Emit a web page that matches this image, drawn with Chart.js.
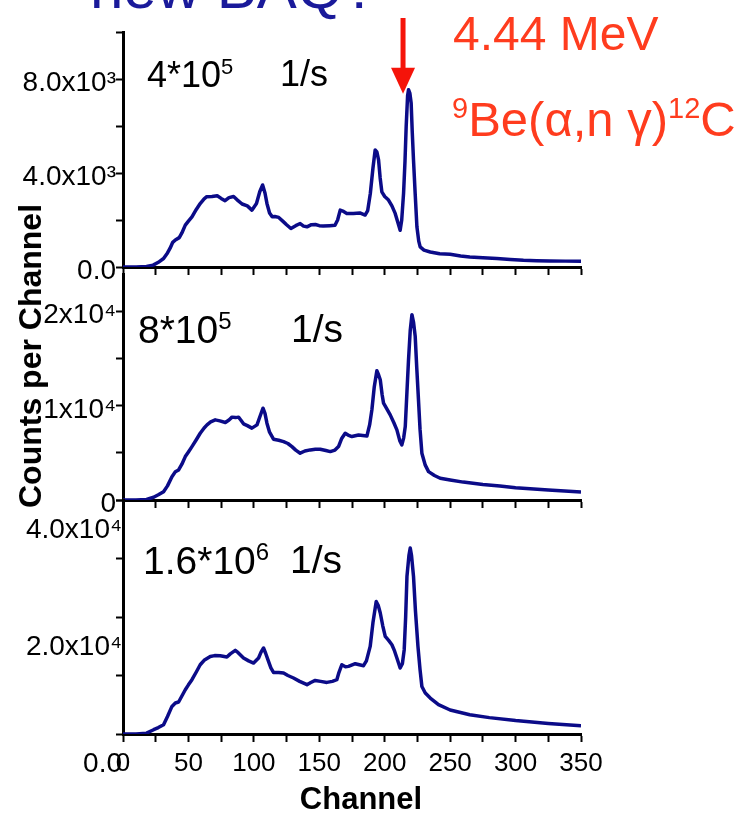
<!DOCTYPE html>
<html>
<head>
<meta charset="utf-8">
<script src="https://cdn.jsdelivr.net/npm/chart.js@4.4.0/dist/chart.umd.min.js"></script>
<style>
  html, body { margin: 0; padding: 0; background: #fff; }
  body { width: 739px; height: 813px; position: relative; overflow: hidden; font-family: "Liberation Sans", Arial, sans-serif; }
  canvas { position: absolute; left: 0; top: 0; }
  .txt { position: absolute; white-space: nowrap; line-height: 1; color: #000; }
  .red { color: #ff3c1e; }
</style>
</head>
<body>
<canvas id="panel1" width="739" height="813"></canvas>
<canvas id="panel2" width="739" height="813"></canvas>
<canvas id="panel3" width="739" height="813"></canvas>

<div class="txt" style="left:90px;top:-42px;font-size:60px;color:#1a1a9a">new BAQ?</div>
<div class="txt red" style="left:453px;top:10px;font-size:48px">4.44 MeV</div>
<div class="txt red" style="left:452px;top:94px;font-size:49px"><span style="font-size:29px;vertical-align:18px">9</span>Be(α,n γ)<span style="font-size:29px;vertical-align:18px">12</span>C</div>

<div class="txt" style="left:147px;top:56px;font-size:36px">4*10<span style="font-size:22px;vertical-align:13px">5</span><span style="position:absolute;left:133px">1/s</span></div>
<div class="txt" style="left:138px;top:309px;font-size:39px">8*10<span style="font-size:24px;vertical-align:14px">5</span><span style="position:absolute;left:153px">1/s</span></div>
<div class="txt" style="left:143px;top:540px;font-size:39px">1.6*10<span style="font-size:24px;vertical-align:14px">6</span><span style="position:absolute;left:147px">1/s</span></div>

<div class="txt" style="left:361px;top:783px;font-size:31px;font-weight:bold;transform:translateX(-50%)">Channel</div>
<div class="txt" style="left:30px;top:356px;font-size:32px;font-weight:bold;transform:translate(-50%,-50%) rotate(-90deg)">Counts per Channel</div>

<script>
// Spectra (channel, counts)
const ch1 = [0, 10, 18, 23, 27, 31, 34, 36, 38, 40, 43, 45, 47.6, 50, 52.7, 56, 59, 62, 64, 68, 72, 75, 78, 81, 84.5, 87, 91, 95, 98.5, 102, 104.5, 106.7, 108.5, 110, 112, 114, 116, 119, 122.7, 125, 128.3, 132, 135.4, 138, 140.6, 144, 147, 150, 153, 158, 162, 164, 166, 168, 171, 176, 181, 185, 187, 189, 191, 192.7, 194, 195.3, 196.5, 197.8, 200, 202.9, 205.5, 208, 210, 211.8, 213, 214.4, 215.5, 216.4, 217.5, 218.2, 219.2, 220.2, 221, 222, 223.3, 224.6, 226, 227.1, 230, 234.8, 242, 250, 258, 265, 275, 285.7, 296, 306, 316, 326, 338, 350];
const cnt1 = [0, 0, 20, 80, 200, 360, 600, 800, 1050, 1150, 1250, 1450, 1780, 1950, 2130, 2450, 2700, 2900, 2990, 3000, 3030, 2920, 2820, 2950, 3000, 2870, 2680, 2600, 2420, 2700, 3200, 3490, 3150, 2705, 2300, 2135, 2150, 2110, 1920, 1800, 1640, 1760, 1850, 1740, 1710, 1800, 1810, 1760, 1740, 1760, 1780, 2000, 2420, 2380, 2280, 2280, 2300, 2210, 2400, 3130, 4200, 4980, 4900, 4555, 3800, 3200, 3000, 2850, 2600, 2280, 1900, 1565, 2000, 3130, 4500, 5980, 7300, 7545, 7400, 6980, 5800, 4555, 3100, 1710, 1100, 855, 720, 640, 560, 540, 470, 427, 390, 360, 320, 285, 270, 255, 250, 250];

const ch2 = [0, 10, 18, 23.4, 27, 31, 34, 37.4, 40, 42.5, 45, 47.6, 50, 52.7, 56, 59, 62, 64.2, 67, 70.5, 74, 78.2, 81, 83.3, 86, 88.3, 90, 92.1, 95, 98.5, 102.4, 105, 107, 108.5, 110, 112, 115, 119, 122.7, 126, 129.1, 132, 135.4, 139, 143.1, 147, 150.7, 155, 158.4, 162, 164.7, 167, 169.8, 172, 174.9, 180, 186.4, 188.5, 190.2, 192, 194, 195.3, 196.6, 198, 199.1, 201.5, 204.2, 207, 209.3, 211.5, 213.1, 214.5, 215.7, 217, 218.2, 219.5, 220.8, 222, 223.3, 224.5, 225.8, 227, 228.4, 231, 233.5, 238, 242.4, 250, 260, 275, 288, 300, 325, 350];
const cnt2 = [0, 0, 60, 290, 550, 880, 1500, 2480, 3000, 3190, 3800, 4610, 5100, 5670, 6400, 7090, 7650, 7980, 8300, 8510, 8400, 8230, 8500, 8800, 8750, 8800, 8500, 8090, 7900, 7630, 7980, 9000, 9750, 9200, 8160, 7200, 6460, 6350, 6200, 6000, 5670, 5300, 4970, 5200, 5320, 5400, 5390, 5250, 5140, 5300, 5670, 6500, 7090, 6900, 6740, 6910, 6800, 8000, 9580, 12000, 13720, 13300, 12770, 11200, 10290, 9700, 9040, 8200, 7450, 6300, 5850, 6600, 7800, 11500, 14900, 18000, 19680, 18900, 17380, 14000, 10640, 7500, 4970, 3700, 3010, 2600, 2310, 2130, 1900, 1650, 1490, 1300, 1050, 850];

const ch3 = [0, 10, 18, 23.4, 27, 31, 34, 37.4, 40, 42.5, 45, 47.6, 50, 52.7, 56, 59, 62, 66.7, 70, 74.3, 79.4, 82, 85.8, 88, 92.1, 96, 99.8, 103.6, 105.5, 107.4, 109, 111.2, 113, 115, 119, 122.7, 126, 130.3, 135, 140.6, 143.5, 146.9, 151, 155.8, 160, 163.4, 165, 167.2, 170, 172.3, 177.5, 183.8, 186, 188.9, 191, 193.5, 195, 196.6, 198.5, 200.4, 203, 205.5, 207.5, 209.3, 211.8, 213.5, 214.9, 216, 217, 218.5, 219.5, 220.5, 222, 223.5, 225.4, 227, 228.4, 231, 234.8, 241.1, 250, 265, 280, 300, 325, 350];
const cnt3 = [0, 0, 150, 735, 1100, 1590, 3000, 4720, 5300, 5470, 6500, 7570, 8400, 9280, 10600, 11840, 12600, 13260, 13400, 13370, 13160, 13700, 14290, 13900, 12990, 12500, 12130, 12990, 14000, 14700, 13800, 12410, 11300, 10530, 10500, 10420, 10000, 9570, 9000, 8430, 8800, 9160, 9000, 8820, 9000, 9280, 10500, 11840, 11500, 11560, 12010, 11670, 12500, 14970, 19000, 22660, 22000, 20680, 18500, 16680, 16000, 15260, 14200, 12990, 11280, 12000, 14410, 20000, 26930, 30500, 31790, 30500, 26930, 21000, 14970, 11000, 8130, 7000, 6150, 5010, 4100, 3300, 2800, 2300, 1800, 1400];

// Tick positions (major + minor) and labels
const xTicks = [0, 25, 50, 75, 100, 125, 150, 175, 200, 225, 250, 275, 300, 325, 350];
const xTickValues = [0, 50, 100, 150, 200, 250, 300, 350];
const xTickLabels = ['0', '50', '100', '150', '200', '250', '300', '350'];
const y1Ticks = [0, 2000, 4000, 6000, 8000, 10000];
const y1TickValues = [0, 4000, 8000];
const y1TickLabels = ['0.0', '4.0x10³', '8.0x10³'];
const y2Ticks = [0, 5000, 10000, 15000, 20000];
const y2TickValues = [0, 10000, 20000];
const y2TickLabels = ['0', '1x10⁴', '2x10⁴'];
const y3Ticks = [0, 10000, 20000, 30000, 40000];
const y3TickValues = [0, 20000, 40000];
const y3TickLabels = ['0.0', '2.0x10⁴', '4.0x10⁴'];

const arrowChannel = 214;
const lineColor = '#0b0b88';
const arrowColor = '#f5140a';

Chart.defaults.font.family = '"Liberation Sans", Arial, sans-serif';
Chart.defaults.color = '#000';

// red marker arrow above the 4.44 MeV peak (top panel only)
const arrowPlugin = {
  id: 'arrow',
  afterDatasetsDraw(chart) {
    const {ctx, scales: {x, y}} = chart;
    const px = x.getPixelForValue(arrowChannel);
    const tip = y.getPixelForValue(Math.max(...cnt1)) + 4;
    ctx.save();
    ctx.strokeStyle = arrowColor;
    ctx.fillStyle = arrowColor;
    ctx.lineWidth = 5;
    ctx.beginPath();
    ctx.moveTo(px, 18);
    ctx.lineTo(px, tip - 24);
    ctx.stroke();
    ctx.beginPath();
    ctx.moveTo(px - 12, tip - 26);
    ctx.lineTo(px + 12, tip - 26);
    ctx.lineTo(px, tip);
    ctx.closePath();
    ctx.fill();
    ctx.restore();
  }
};

function findLabel(values, labels, v) {
  const i = values.findIndex(t => Math.abs(t - v) < 1e-3);
  return i >= 0 ? labels[i] : '';
}

function makePanel(id, cfg) {
  const ctx = document.getElementById(id).getContext('2d');
  const points = cfg.channels.map((c, i) => ({x: c, y: cfg.counts[i]}));
  return new Chart(ctx, {
    type: 'line',
    data: {
      datasets: [{
        data: points,
        borderColor: lineColor,
        borderWidth: 3.5,
        borderJoinStyle: 'round',
        pointRadius: 0,
        tension: 0,
        fill: false
      }]
    },
    options: {
      responsive: false,
      animation: false,
      devicePixelRatio: 1,
      layout: { padding: { left: 0, right: 158, top: cfg.top, bottom: cfg.bottom } },
      plugins: { legend: { display: false }, tooltip: { enabled: false } },
      scales: {
        x: {
          type: 'linear',
          min: 0,
          max: 350,
          border: { color: '#000', width: 3 },
          grid: { drawOnChartArea: false, drawTicks: true, tickLength: 8, tickWidth: 2, tickColor: '#000' },
          afterBuildTicks: (scale) => { scale.ticks = xTicks.map(v => ({value: v})); },
          ticks: {
            autoSkip: false,
            maxRotation: 0,
            padding: 6,
            font: { size: 26 },
            callback: (v) => cfg.xLabels ? findLabel(xTickValues, xTickLabels, v) : ''
          },
          afterFit: (scale) => {
            scale.height = cfg.xHeight;
            scale.paddingLeft = 0;
            scale.paddingRight = 0;
          }
        },
        y: {
          min: 0,
          max: cfg.yMax,
          border: { color: '#000', width: 3 },
          grid: { drawOnChartArea: false, drawTicks: true, tickLength: 7, tickWidth: 2, tickColor: '#000' },
          afterBuildTicks: (scale) => { scale.ticks = cfg.yTicks.map(v => ({value: v})); },
          ticks: {
            autoSkip: false,
            padding: cfg.yPad,
            labelOffset: cfg.yLabelOffset,
            font: { size: 28 },
            callback: (v) => findLabel(cfg.yValues, cfg.yLabels, v)
          },
          afterFit: (scale) => {
            scale.width = 123;
            scale.paddingTop = 0;
            scale.paddingBottom = 0;
          }
        }
      }
    },
    plugins: cfg.plugins || []
  });
}

makePanel('panel1', {
  channels: ch1, counts: cnt1, top: 32, bottom: 538, xHeight: 8,
  yMax: 10000, yTicks: y1Ticks, yValues: y1TickValues, yLabels: y1TickLabels,
  yPad: 0, yLabelOffset: 4, xLabels: false, plugins: [arrowPlugin]
});
makePanel('panel2', {
  channels: ch2, counts: cnt2, top: 274, bottom: 305, xHeight: 8,
  yMax: 24000, yTicks: y2Ticks, yValues: y2TickValues, yLabels: y2TickLabels,
  yPad: 0, yLabelOffset: 4, xLabels: false
});
makePanel('panel3', {
  channels: ch3, counts: cnt3, top: 500, bottom: 19, xHeight: 60,
  yMax: 40000, yTicks: y3Ticks, yValues: y3TickValues, yLabels: y3TickLabels,
  yPad: -6, yLabelOffset: 30, xLabels: true
});
</script>
</body>
</html>
